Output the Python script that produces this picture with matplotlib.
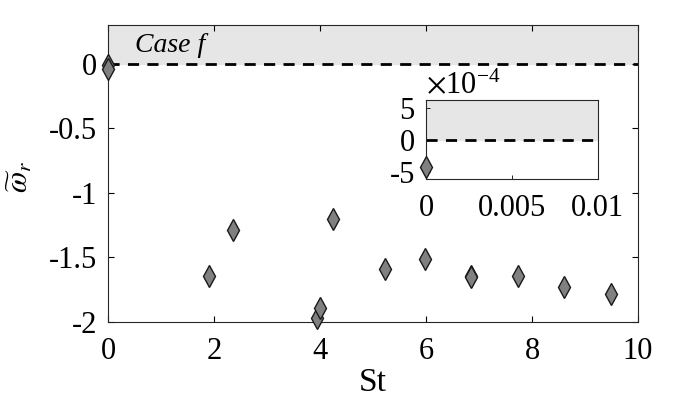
import matplotlib
matplotlib.use("Agg")
import matplotlib.pyplot as plt

plt.rcParams['font.family'] = ['Liberation Serif', 'DejaVu Serif']
plt.rcParams['mathtext.fontset'] = 'stix'
plt.rcParams['axes.unicode_minus'] = False

# Data
st = [0.0, 0.0, 1.91, 2.36, 3.95, 4.0, 4.25, 5.23, 5.98, 6.85, 6.85, 7.74, 8.6, 9.49]
omega_r = [-0.01, -0.04, -1.64, -1.29, -1.97, -1.89, -1.20, -1.59, -1.51, -1.64, -1.65, -1.64, -1.73, -1.78]
inset_st = [0.0]
inset_omega = [-4.2e-4]

xticks = [0, 2, 4, 6, 8, 10]
yticks = [-2, -1.5, -1, -0.5, 0]
ytick_labels = ['-2', '-1.5', '-1', '-0.5', '0']
inset_xticks = [0, 0.005, 0.01]
inset_xtick_labels = ['0', '0.005', '0.01']
inset_yticks = [-5e-4, 0, 5e-4]
inset_ytick_labels = ['-5', '0', '5']

MS = 10.7
fig = plt.figure(figsize=(6.87, 4.0), dpi=100)
ax = fig.add_axes([0.1572, 0.195, 0.7715, 0.7425])
ax.axhspan(0, 0.3, color='#e6e6e6', zorder=0)
ax.axhline(0, color='black', lw=2, ls=(0, (4, 3)), zorder=1)
ax.plot(st, omega_r, ls='none', marker='d', ms=MS, mfc='#808080', mec='#1a1a1a', mew=1.0, zorder=3, clip_on=False)
ax.set_xlim(0, 10)
ax.set_ylim(-2, 0.3)
ax.set_xticks(xticks)
ax.set_yticks(yticks)
ax.set_yticklabels(ytick_labels)
ax.tick_params(direction='in', labelsize=22, length=4, width=0.8, top=True, right=True)
ax.tick_params(axis='x', pad=11)
ax.tick_params(axis='y', pad=8)
for s in ax.spines.values():
    s.set_linewidth(0.8)
    s.set_color('#262626')
ax.set_xlabel('St', fontsize=24, va='center')
ax.xaxis.set_label_coords(0.5, -0.205)
ax.set_ylabel(r'$\widetilde{\omega}_r$', fontsize=22, va='center')
ax.yaxis.set_label_coords(-0.166, 0.49)
ax.text(0.51, 0.139, 'Case f', fontsize=20, style='italic', va='center', ha='left')

ins = fig.add_axes([0.620, 0.5525, 0.250, 0.1975])
ins.axhspan(0, 6.5e-4, color='#e6e6e6', zorder=0)
ins.axhline(0, color='black', lw=2, ls=(0, (4, 3)), zorder=1)
ins.plot(inset_st, inset_omega, ls='none', marker='d', ms=MS, mfc='#808080', mec='#1a1a1a', mew=1.0, zorder=3, clip_on=False)
ins.set_xlim(0, 0.01)
ins.set_ylim(-6.1e-4, 6.3e-4)
ins.set_xticks(inset_xticks)
ins.set_xticklabels(inset_xtick_labels)
ins.set_yticks(inset_yticks)
ins.set_yticklabels(inset_ytick_labels)
ins.tick_params(direction='in', labelsize=22, length=3, width=0.6)
ins.tick_params(axis='x', pad=11)
ins.tick_params(axis='y', pad=8)
for s in ins.spines.values():
    s.set_linewidth(0.8)
    s.set_color('#262626')
ins.text(0.0, 1.0, r'$\times\mathregular{10^{-4}}$', transform=ins.transAxes, fontsize=22, ha='left', va='bottom')

fig.savefig('out.png', dpi=100)
